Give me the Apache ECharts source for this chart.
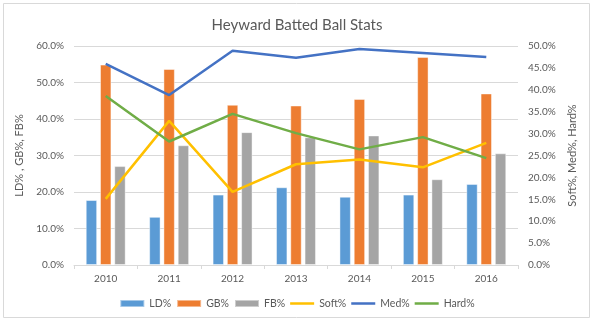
<!DOCTYPE html>
<html><head><meta charset="utf-8">
<script src="https://cdn.jsdelivr.net/npm/echarts@6/dist/echarts.min.js"></script>
<style>html,body{margin:0;padding:0;background:#fff}#c{width:594px;height:324px}</style>
</head><body><div id="c"></div>
<script>
const years = ['2010','2011','2012','2013','2014','2015','2016'];
const ld = [17.8, 13.2, 19.3, 21.3, 18.7, 19.3, 22.2];
const gb = [54.9, 53.7, 43.9, 43.7, 45.5, 57.0, 47.0];
const fb = [27.1, 32.8, 36.4, 35.0, 35.5, 23.5, 30.6];
const soft = [15.1, 32.9, 16.7, 23.0, 24.1, 22.3, 27.9];
const med = [45.9, 38.8, 48.9, 47.3, 49.3, 48.4, 47.5];
const hard = [38.6, 28.2, 34.5, 30.1, 26.4, 29.2, 24.4];
const leftTicks = {min: 0, max: 60, interval: 10};
const rightTicks = {min: 0, max: 50, interval: 5};

const txt = '#595959', font = 'Lato';
const chart = echarts.init(document.getElementById('c'), null, {renderer: 'canvas'});
const barS = (name, data, color) => ({name, type: 'bar', data, yAxisIndex: 0, barGap: '25%', barCategoryGap: '37%',
  itemStyle: {color, borderColor: 'rgba(255,255,255,0.45)', borderWidth: 1}});
const lineS = (name, data, color) => ({name, type: 'line', data, yAxisIndex: 1, symbol: 'none',
  lineStyle: {color, width: 2.5}, itemStyle: {color}});
const lineIcon = 'path://M0,0h1v0.01h-1z M0,2.25h24v2.5h-24z M0,6.99h1v0.01h-1z';
chart.setOption({
  animation: false,
  textStyle: {fontFamily: font},
  graphic: [{type: 'rect', shape: {x: 3.5, y: 3.5, width: 586, height: 314}, style: {fill: 'none', stroke: '#D9D9D9', lineWidth: 1}, z: -1}],
  title: {text: 'Heyward Batted Ball Stats', left: 'center', top: 13, textStyle: {color: txt, fontSize: 15, fontWeight: 'normal', fontFamily: font}},
  grid: {left: 74, right: 76, top: 46, bottom: 59},
  legend: {bottom: 10, left: 'center', itemWidth: 24, itemHeight: 7, itemGap: 5,
    textStyle: {color: txt, fontSize: 10.5, fontFamily: font},
    data: [{name: 'LD%', icon: 'rect'}, {name: 'GB%', icon: 'rect'}, {name: 'FB%', icon: 'rect'},
      {name: 'Soft%', icon: lineIcon}, {name: 'Med%', icon: lineIcon}, {name: 'Hard%', icon: lineIcon}]},
  xAxis: {type: 'category', data: years,
    axisLine: {lineStyle: {color: '#D9D9D9'}},
    axisTick: {show: true, alignWithLabel: false, length: 4, lineStyle: {color: '#D9D9D9'}},
    axisLabel: {color: txt, fontSize: 10, margin: 9, fontFamily: font}},
  yAxis: [
    {type: 'value', ...leftTicks, name: 'LD% , GB%, FB%', nameLocation: 'middle', nameGap: 39, nameRotate: 90,
      nameTextStyle: {color: txt, fontSize: 11, fontFamily: font},
      axisLabel: {color: txt, fontSize: 10, formatter: v => v.toFixed(1) + '%', margin: 10, fontFamily: font},
      splitLine: {lineStyle: {color: '#D9D9D9'}}, axisLine: {show: false}, axisTick: {show: false}},
    {type: 'value', ...rightTicks, position: 'right', name: 'Soft%, Med%, Hard%', nameLocation: 'middle', nameGap: 42, nameRotate: 90,
      nameTextStyle: {color: txt, fontSize: 11, fontFamily: font},
      axisLabel: {color: txt, fontSize: 10, formatter: v => v.toFixed(1) + '%', margin: 10, fontFamily: font},
      splitLine: {show: false}, axisLine: {show: false}, axisTick: {show: false}}
  ],
  series: [
    barS('LD%', ld, '#5B9BD5'),
    barS('GB%', gb, '#ED7D31'),
    barS('FB%', fb, '#A5A5A5'),
    lineS('Soft%', soft, '#FFC000'),
    lineS('Med%', med, '#4472C4'),
    lineS('Hard%', hard, '#70AD47')
  ]
});
</script></body></html>
